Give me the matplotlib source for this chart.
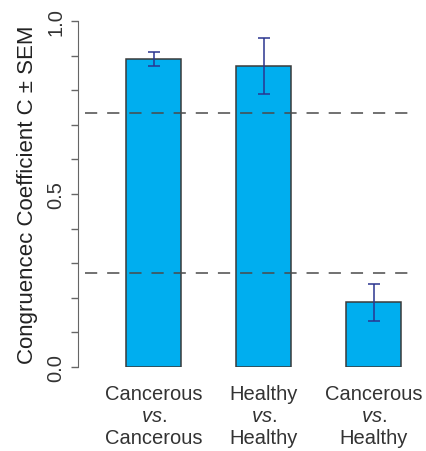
import numpy as np
import matplotlib
matplotlib.use("Agg")
import matplotlib.pyplot as plt
from matplotlib.ticker import MultipleLocator

plt.rcParams['font.family'] = ['Liberation Sans', 'DejaVu Sans']
plt.rcParams['mathtext.fontset'] = 'custom'
plt.rcParams['mathtext.rm'] = 'Liberation Sans'
plt.rcParams['mathtext.it'] = 'Liberation Sans:italic'

# data
groups = ["Cancerous\n$\\mathit{vs.}$\nCancerous",
          "Healthy\n$\\mathit{vs.}$\nHealthy",
          "Cancerous\n$\\mathit{vs.}$\nHealthy"]
means = [0.889, 0.870, 0.189]
err_lo = [0.019, 0.081, 0.056]
err_hi = [0.021, 0.080, 0.050]
ref_lines = [0.733, 0.273]

fig = plt.figure(figsize=(4.27, 4.52), dpi=100)
ax = fig.add_axes([0.199, 0.1858, 0.773, 0.7655])

x = np.arange(len(means))
ax.bar(x, means, width=0.5, color='#00aeef', edgecolor='#3a3a3a', linewidth=1.1, zorder=2)
ax.errorbar(x, means, yerr=[err_lo, err_hi], fmt='none', ecolor='#2b3590',
            elinewidth=1.1, capsize=4, capthick=1.1, zorder=3)
for r in ref_lines:
    ax.axhline(r, color='#4a4a4a', lw=1.1, linestyle=(0, (8, 6.5)), zorder=4)

ax.set_xlim(-0.623, 2.377)
ax.set_ylim(0, 1.0)

for s in ['top', 'right', 'bottom']:
    ax.spines[s].set_visible(False)
ax.spines['left'].set_position(('outward', 5))
ax.spines['left'].set_color('#666666')
ax.spines['left'].set_bounds(0, 1.0)

ax.yaxis.set_major_locator(MultipleLocator(0.5))
ax.yaxis.set_minor_locator(MultipleLocator(0.1))
ax.set_yticks([0.0, 0.5, 1.0])
ax.set_yticklabels(['0.0', '0.5', '1.0'], rotation=90, va='center')
ax.tick_params(axis='y', which='both', length=5, width=1, color='#666666',
               labelsize=14.5, labelcolor='#333333', pad=4)

ax.set_xticks(x)
ax.set_xticklabels(groups, fontsize=14.5, color='#333333', linespacing=1.2)
ax.tick_params(axis='x', length=0, pad=12)

ax.set_ylabel("Congruencec Coefficient C \u00b1 SEM", fontsize=16, color='#222222', labelpad=6)

fig.savefig("out.png", dpi=100, facecolor='white')
